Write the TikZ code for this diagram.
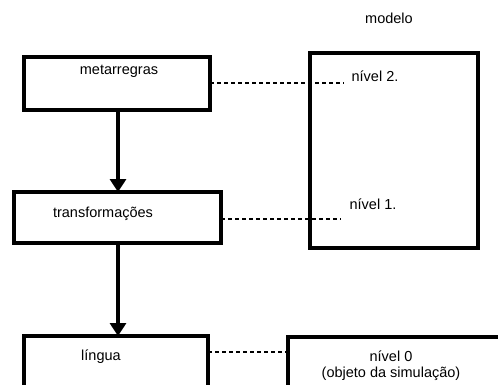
\documentclass[tikz,border=0pt]{standalone}
\usepackage{fontspec}
\setmainfont{Liberation Sans}
\usetikzlibrary{arrows.meta}
\begin{document}
\begin{tikzpicture}[x=1pt,y=-1pt,
  boxline/.style={line width=3.4pt},
  flow/.style={line width=3.4pt,-{Triangle[width=16pt,length=13pt]}},
  link/.style={line width=2.8pt,dash pattern=on 4pt off 3pt},
  lbl/.style={font=\fontsize{14.5}{16}\selectfont,inner sep=0pt}]
\useasboundingbox (0,0) rectangle (498,385);
% boxes
\draw[boxline] (24,57) rectangle (210,110);
\node[lbl] (meta) at (119,71) {metarregras};
\draw[boxline] (14,192) rectangle (221,243);
\node[lbl] (trans) at (103,214) {transformações};
\draw[boxline] (24,385) -- (24,336) -- (208,336) -- (208,385);
\node[lbl] (lingua) at (101,357) {língua};
\draw[boxline] (310,53) rectangle (478,248);
\node[lbl] (modelo) at (389,18) {modelo};
\node[lbl] (n2) at (375,76) {nível 2.};
\node[lbl] (n1) at (373,204) {nível 1.};
\draw[boxline] (288,385) -- (288,337) -- (498,337);
\node[lbl,align=center,font=\fontsize{14.5}{16}\selectfont] (n0) at (391,366) {nível 0\\(objeto da simulação)};
% coordinates
\coordinate (mb) at (118,110);
\coordinate (tt) at (118,192);
\coordinate (tb) at (118,243);
\coordinate (lt) at (118,336);
\coordinate (mr) at (210,83);
\coordinate (n2e) at (344,83);
\coordinate (tr) at (221,219);
\coordinate (n1e) at (341,219);
\coordinate (lr) at (208,352);
\coordinate (n0l) at (288,352);
% connectors
\draw[flow] (mb) -- (tt);
\draw[flow] (tb) -- (lt);
\draw[link] (mr) -- (n2e);
\draw[link] (tr) -- (n1e);
\draw[link] (lr) -- (n0l);
\end{tikzpicture}
\end{document}
